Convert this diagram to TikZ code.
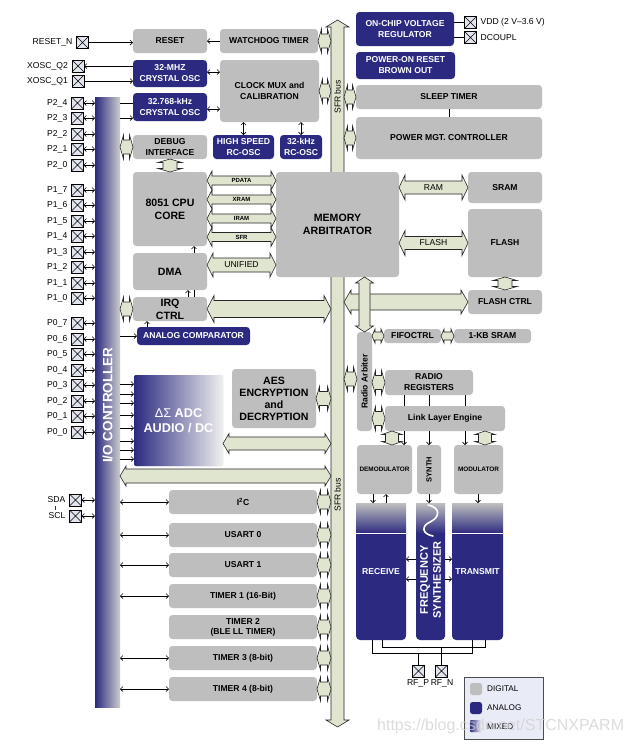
\documentclass[tikz,border=0pt]{standalone}
\usepackage{fontspec}
\setmainfont{Liberation Sans}
\usetikzlibrary{arrows.meta,calc}
\definecolor{dg}{HTML}{BEBEBE}
\definecolor{nv}{HTML}{2B2A80}
\definecolor{busg}{HTML}{E0E5CF}
\definecolor{pinc}{HTML}{E3E5EE}
\definecolor{lgd}{HTML}{E9EBF6}
\newcommand\fsN{\fontsize{8.6}{11}\selectfont\bfseries}
\newcommand\fsB{\fontsize{10.6}{13}\selectfont\bfseries}
\newcommand\fsAES{\fontsize{10.6}{12}\selectfont\bfseries}
\newcommand\fsADC{\fontsize{12.7}{15}\selectfont\bfseries}
\newcommand\fsP{\fontsize{8.6}{10}\selectfont}
\newcommand\fsS{\fontsize{6}{7}\selectfont\bfseries}
\newcommand\fsD{\fontsize{6.4}{7}\selectfont\bfseries}
\newcommand\fsT{\fontsize{8.6}{10}\selectfont\bfseries}
\newcommand\fsIO{\fontsize{13.5}{14}\selectfont\bfseries}
\newcommand\fsFS{\fontsize{11}{13}\selectfont\bfseries}
\newcommand\mybox[7]{\node[#6, minimum width={(#4-#2)*1pt}, minimum height={(#5-#3)*1pt}, anchor=north west] (#1) at (#2,#3) {#7};}
\newcommand\mypin[4]{\node[pinbox] (#1) at (#2,#3) {}; \node[pinlbl] (#1l) at ([xshift=-4pt]#1.west) {#4};}
\newcommand\harr[6]{%
  \draw[busline,#1] let \p1=(#2), \p2=(#3) in
   (\x1,\y1) -- (\x1+#6,\y1+#5) -- (\x1+#6,\y1+#4) -- (\x2-#6,\y1+#4) -- (\x2-#6,\y1+#5)
   -- (\x2,\y1) -- (\x2-#6,\y1-#5) -- (\x2-#6,\y1-#4) -- (\x1+#6,\y1-#4) -- (\x1+#6,\y1-#5) -- cycle;}
\newcommand\varr[6]{%
  \draw[busline,#1] let \p1=(#2), \p2=(#3) in
   (\x1,\y1) -- (\x1+#5,\y1-#6) -- (\x1+#4,\y1-#6) -- (\x1+#4,\y2+#6) -- (\x1+#5,\y2+#6)
   -- (\x1,\y2) -- (\x1-#5,\y2+#6) -- (\x1-#4,\y2+#6) -- (\x1-#4,\y1-#6) -- (\x1-#5,\y1-#6) -- cycle;}
\newcommand\busc[2]{\harr{}{#1}{#2}{7pt}{12pt}{3.5pt}}
\newcommand\vbusc[2]{\varr{}{#1}{#2}{7pt}{12pt}{3.5pt}}
\begin{document}
\begin{tikzpicture}[x=1pt,y=-1pt,
  box/.style={rounded corners=3.5pt, fill=dg, draw=none, inner sep=0pt, outer sep=0pt, align=center, text=black, font=\fsN},
  nbox/.style={box, fill=nv, text=white},
  busline/.style={draw=black!85, fill=busg, line width=0.6pt, line join=miter},
  pinbox/.style={draw=black, fill=pinc, line width=0.6pt, minimum size=12pt, inner sep=0pt, outer sep=0pt,
     path picture={\draw[line width=0.6pt] (path picture bounding box.north west) -- (path picture bounding box.south east) (path picture bounding box.south west) -- (path picture bounding box.north east);}},
  pinlbl/.style={anchor=east, inner sep=0pt, font=\fsP},
  sig/.style={line width=0.6pt, draw=black},
  >={Straight Barb[length=2.5pt,width=5pt]}]
\fill[white] (0,0) rectangle (633,745);
\useasboundingbox (0,0) rectangle (633,745);

% SFR bus
\node[minimum width=13pt, minimum height=707pt, inner sep=0pt, outer sep=0pt, anchor=north west] (sfr) at (331,20) {};
\varr{}{sfr.north}{sfr.south}{6.5pt}{11.5pt}{7pt}
\node[rotate=90, font=\fsP] (sfrl1) at (337.5,97) {SFR bus};
\node[rotate=90, font=\fsP] (sfrl2) at (337.5,495) {SFR bus};

% I/O controller
\mybox{io}{95}{97}{120}{707}{draw=none, inner sep=0pt, outer sep=0pt, left color=nv, right color=black!20}{}
\node[rotate=90, text=white, font=\fsIO] (iot) at (107.5,405) {I/O CONTROLLER};

% boxes
\mybox{reset}{133}{29}{207}{53}{box}{RESET}
\mybox{wd}{220}{29}{318}{53}{box}{WATCHDOG TIMER}
\mybox{xhf}{133}{60}{207}{87}{nbox}{32-MHZ\\CRYSTAL OSC}
\mybox{clk}{220}{60}{319}{122}{box}{CLOCK MUX and\\CALIBRATION}
\mybox{xlf}{133}{93}{207}{121}{nbox}{32.768-kHz\\CRYSTAL OSC}
\mybox{vreg}{356}{12}{454}{46}{nbox}{ON-CHIP VOLTAGE\\REGULATOR}
\mybox{por}{356}{52}{455}{79}{nbox}{POWER-ON RESET\\BROWN OUT}
\mybox{sleep}{356}{85}{542}{109}{box}{SLEEP TIMER}
\mybox{pmc}{356}{117}{542}{159}{box}{POWER MGT. CONTROLLER}
\mybox{dbg}{133}{135}{207}{159}{box}{DEBUG\\INTERFACE}
\mybox{hsrc}{213}{135}{274}{159}{nbox}{HIGH SPEED\\RC-OSC}
\mybox{rc}{280}{135}{322}{159}{nbox}{32-kHz\\RC-OSC}
\mybox{cpu}{133}{172}{207}{246}{box,font=\fsB}{8051 CPU\\CORE}
\mybox{dma}{133}{253}{207}{290}{box,font=\fsB}{DMA}
\mybox{irq}{133}{297}{207}{321}{box,font=\fsB}{IRQ\\CTRL}
\mybox{mem}{276}{172}{399}{277}{box,font=\fsB}{MEMORY\\ARBITRATOR}
\mybox{sram}{468}{172}{542}{203}{box}{SRAM}
\mybox{flash}{468}{209}{542}{277}{box}{FLASH}
\mybox{fctrl}{468}{290}{542}{314}{box}{FLASH CTRL}
\mybox{acomp}{137}{327}{250}{345}{nbox}{ANALOG COMPARATOR}
\mybox{fifo}{384}{329}{441}{343}{box}{FIFOCTRL}
\mybox{kb}{454}{329}{531}{343}{box}{1-KB SRAM}
\mybox{rarb}{357}{332}{372}{431}{box}{}
\node[rotate=90, font=\fsN] (rarbt) at (rarb.center) {Radio Arbiter};
\mybox{aes}{232}{369}{316}{428}{box,font=\fsAES}{AES\\ENCRYPTION\\and\\DECRYPTION}
\mybox{adc}{134}{375}{223}{466}{box,rounded corners=2pt,left color=nv,right color=black!6,text=white,font=\fsADC}{{\mdseries ΔΣ} ADC\\AUDIO / DC}
\mybox{rreg}{385}{370}{473}{395}{box}{RADIO\\REGISTERS}
\mybox{lle}{385}{406}{505}{431}{box}{Link Layer Engine}
\mybox{demod}{357}{445}{412}{494}{box,font=\fsD}{DEMODULATOR}
\mybox{synth}{417}{445}{441}{494}{box}{}
\node[rotate=90, font=\fontsize{7.5}{8}\selectfont\bfseries] (syntht) at (synth.center) {SYNTH};
\mybox{mod}{454}{445}{503}{494}{box,font=\fsD}{MODULATOR}
\mybox{i2c}{169}{490}{317}{514}{box}{I\textsuperscript{2}C}
\mybox{usa}{169}{523}{317}{547}{box}{USART 0}
\mybox{usb}{169}{553}{317}{577}{box}{USART 1}
\mybox{tma}{169}{584}{317}{608}{box}{TIMER 1 (16-Bit)}
\mybox{tmb}{169}{615}{317}{639}{box,font=\fsT}{TIMER 2\\(BLE LL TIMER)}
\mybox{tmc}{169}{646}{317}{670}{box}{TIMER 3 (8-bit)}
\mybox{tmd}{169}{677}{317}{701}{box}{TIMER 4 (8-bit)}

% receive / synthesizer / transmit
\foreach \xa/\xb in {356/406,416/445,452/503}{
  \fill[nv] (\xa,533) [rounded corners=4pt] -- (\xa,640) -- (\xb,640) [sharp corners] -- (\xb,533) -- cycle;
  \shade[top color=black!25, bottom color=nv] (\xa,503) rectangle (\xb,533.5);
}
\draw[white, line width=0.7pt] (356,533) -- (406,533) (452,533) -- (503,533);
\draw[white, line width=1.6pt, line cap=round] (428,505) .. controls (442,508) and (439,518) .. (430,522) .. controls (421,526) and (422,534) .. (433,536);
\mybox{rx}{356}{503}{406}{640}{box,fill=none,text=white}{RECEIVE}
\mybox{fs}{416}{503}{445}{640}{box,fill=none}{}
\node[rotate=90, text=white, font=\fsFS, align=center] (fst) at (430.5,580) {FREQUENCY\\SYNTHESIZER};
\mybox{tx}{452}{503}{503}{640}{box,fill=none,text=white}{TRANSMIT}

% pins
\mypin{prst}{82.5}{42.5}{RESET\_N}
\mypin{pq2}{78}{66}{XOSC\_Q2}
\mypin{pq1}{78}{81}{XOSC\_Q1}
\foreach \lab/\yy [count=\i] in {P2\_4/103,P2\_3/118,P2\_2/134,P2\_1/149,P2\_0/165,P1\_7/190,P1\_6/205,P1\_5/221,P1\_4/236,P1\_3/252,P1\_2/267,P1\_1/283,P1\_0/298,P0\_7/323,P0\_6/339,P0\_5/354,P0\_4/370,P0\_3/385,P0\_2/401,P0\_1/416,P0\_0/432}{
  \mypin{pp\i}{77.5}{\yy}{\lab}
  \draw[sig,<->] (pp\i.east) -- (pp\i.east -| io.west);
}
\mypin{psda}{75.5}{500}{SDA}
\mypin{pscl}{75.5}{516}{SCL}
\draw[sig,<->] (psda.east) -- (psda.east -| io.west);
\draw[sig,<->] (pscl.east) -- (pscl.east -| io.west);
\draw[nv, line width=0.5pt] (55,506) -- (55,510);
\node[pinbox] (pvdd) at (470.5,22.5) {};
\node[pinbox] (pdc) at (470.5,37.5) {};
\node[anchor=west, inner sep=0pt, font=\fsP] (pvddl) at ([xshift=4pt]pvdd.east) {VDD (2 V\textendash 3.6 V)};
\node[anchor=west, inner sep=0pt, font=\fsP] (pdcl) at ([xshift=4pt]pdc.east) {DCOUPL};
\draw[sig] (vreg.east |- pvdd) -- (pvdd.west);
\draw[sig] (vreg.east |- pdc) -- (pdc.west);
\node[pinbox] (prfp) at (418.5,671) {};
\node[pinbox] (prfn) at (441.5,671) {};
\node[font=\fsP, inner sep=0pt] (prfpl) at (418,683) {RF\_P};
\node[font=\fsP, inner sep=0pt] (prfnl) at (442,683) {RF\_N};

% simple signals
\draw[sig,->] (prst.east) -- (prst.east -| reset.west);
\draw[sig,->] (wd.west |- reset.east) -- (reset.east);
\draw[sig,->] (xhf.west |- pq2) -- (pq2.east);
\draw[sig,->] (pq1.east) -- (pq1.east -| xhf.west);
\draw[sig,<->] (xhf.east |- 0,72) -- (clk.west |- 0,72);
\draw[sig,<->] (xlf.east |- 0,109) -- (clk.west |- 0,109);
\draw[sig,<->] (hsrc.north |- clk.south) -- (hsrc.north);
\draw[sig,<->] (rc.north |- clk.south) -- (rc.north);
\draw[sig] (sleep.south -| 449,0) -- (pmc.north -| 449,0);
\draw[sig] (io.east |- 0,103) -- (xlf.west |- 0,103);
\draw[sig,->] (io.east |- 0,118) -- (xlf.west |- 0,118);
\draw[sig,->] (io.east |- acomp.west) -- (acomp.west);
\draw[sig,->] (acomp.north -| 147,0) -- (irq.south -| 147,0);
\draw[sig,->] (irq.north -| 188,0) -- (dma.south -| 188,0);
\draw[sig] (irq.north -| 194,0) -- (dma.south -| 194,0);
\draw[sig,->] (dma.north -| 194,0) -- (cpu.south -| 194,0);
\foreach \yy in {384,394,403,415,428,441,450,459}{\draw[sig,->] (io.east |- 0,\yy) -- (adc.west |- 0,\yy);}
\foreach \nm in {i2c,usa,usb,tma,tmc,tmd}{\draw[sig,<->] (io.east |- \nm.west) -- (\nm.west);}
\foreach \xx in {404,429,465}{\draw[sig] (rreg.south -| \xx,0) -- (lle.north -| \xx,0);}
\draw[sig,->] (lle.south -| 404,0) -- (demod.north -| 404,0);
\draw[sig,->] (lle.south -| 429,0) -- (synth.north -| 429,0);
\draw[sig,->] (lle.south -| 465,0) -- (mod.north -| 465,0);
\draw[sig,->] (demod.south -| 373,0) -- (rx.north -| 373,0);
\draw[sig,->] (rx.north -| 386,0) -- (demod.south -| 386,0);
\draw[sig,->] (synth.south -| 429,0) -- (fs.north -| 429,0);
\draw[sig,->] (mod.south -| 478,0) -- (tx.north -| 478,0);
\foreach \yy in {559,579}{
  \draw[sig,->] (fs.west |- 0,\yy) -- (rx.east |- 0,\yy);
  \draw[sig,->] (fs.east |- 0,\yy) -- (tx.west |- 0,\yy);
}
\draw[sig] (rx.south -| 372,0) -- (372,653) -- (472,653) -- (tx.south -| 472,0);
\draw[sig] (rx.south -| 382,0) -- (382,647) -- (485,647) -- (tx.south -| 485,0);
\draw[sig] (prfp.north |- 0,653) -- (prfp.north);
\draw[sig] (prfn.north |- 0,647) -- (prfn.north);

% buses
\foreach \yy/\lab [count=\i] in {180.5/PDATA,199.5/XRAM,218.5/IRAM,237/SFR}{
  \harr{}{cpu.east |- 0,\yy}{mem.west |- 0,\yy}{4.5pt}{9.5pt}{5pt}
  \node[font=\fsS, inner sep=0pt] (bl\i) at (241.5,\yy) {\lab};
}
\harr{}{dma.east |- 0,265}{mem.west |- 0,265}{7pt}{12pt}{6pt}
\node[font=\fsP, inner sep=0pt] (unl) at (241.5,265) {UNIFIED};
\harr{}{mem.east |- sram.west}{sram.west}{6.5pt}{12.5pt}{6pt}
\node[font=\fsP, inner sep=0pt] (raml) at (sram.west -| 433.5,0) {RAM};
\harr{}{mem.east |- flash.west}{flash.west}{6.5pt}{12.5pt}{6pt}
\node[font=\fsP, inner sep=0pt] (flashl) at (flash.west -| 433.5,0) {FLASH};
\harr{}{irq.east}{irq.east -| sfr.west}{8.5pt}{13.5pt}{7pt}
\harr{}{sfr.east |- fctrl.west}{fctrl.west}{8pt}{12pt}{7pt}
\varr{}{mem.south -| rarb.north}{rarb.north}{5.5pt}{9pt}{6pt}
\harr{}{adc.east |- 0,443.5}{sfr.west |- 0,443.5}{6.5pt}{10pt}{6pt}
\harr{}{io.east |- 0,476}{sfr.west |- 0,476}{7pt}{10pt}{6pt}
\vbusc{flash.south}{fctrl.north}
\vbusc{dbg.south}{cpu.north}
\varr{}{lle.south -| 392,0}{demod.north -| 392,0}{6.5pt}{10pt}{3.5pt}
\varr{}{lle.south -| 485,0}{mod.north -| 485,0}{6.5pt}{10pt}{3.5pt}
\busc{wd.east}{wd.east -| sfr.west}
\busc{clk.east}{clk.east -| sfr.west}
\busc{aes.east}{aes.east -| sfr.west}
\busc{sfr.east |- sleep.west}{sleep.west}
\busc{sfr.east |- pmc.west}{pmc.west}
\busc{sfr.east |- 0,379}{rarb.west |- 0,379}
\busc{rarb.east |- rreg.west}{rreg.west}
\busc{rarb.east |- lle.west}{lle.west}
\harr{}{rarb.east |- fifo.west}{fifo.west}{4pt}{7pt}{3pt}
\harr{}{fifo.east}{kb.west}{4pt}{7pt}{3pt}
\busc{io.east |- dbg.west}{dbg.west}
\busc{io.east |- irq.west}{irq.west}
\foreach \nm in {i2c,usa,usb,tma,tmb,tmc,tmd}{\busc{\nm.east}{\nm.east -| sfr.west}}

% legend
\mybox{lg}{464}{677}{543}{739}{draw=black!70, fill=lgd, line width=0.8pt, inner sep=0pt, outer sep=0pt}{}
\mybox{lgd1}{470}{683}{482}{695}{box,rounded corners=2.5pt}{}
\mybox{lgd2}{470}{702}{482}{714}{nbox,rounded corners=2.5pt}{}
\mybox{lgd3}{470}{720}{482}{732}{box,rounded corners=1pt,left color=nv,right color=white}{}
\node[anchor=west, inner sep=0pt, font=\fontsize{8.2}{9}\selectfont] (lgt1) at (487,689) {DIGITAL};
\node[anchor=west, inner sep=0pt, font=\fontsize{8.2}{9}\selectfont] (lgt2) at (487,708) {ANALOG};
\node[anchor=west, inner sep=0pt, font=\fontsize{8.2}{9}\selectfont] (lgt3) at (487,727) {MIXED};

% watermark
\node[anchor=west, inner sep=0pt, font=\fontsize{16}{16}\selectfont, text=black!18, opacity=0.75] (wm) at (377,726) {https://blog.csdn.net/STCNXPARM};
\end{tikzpicture}
\end{document}
